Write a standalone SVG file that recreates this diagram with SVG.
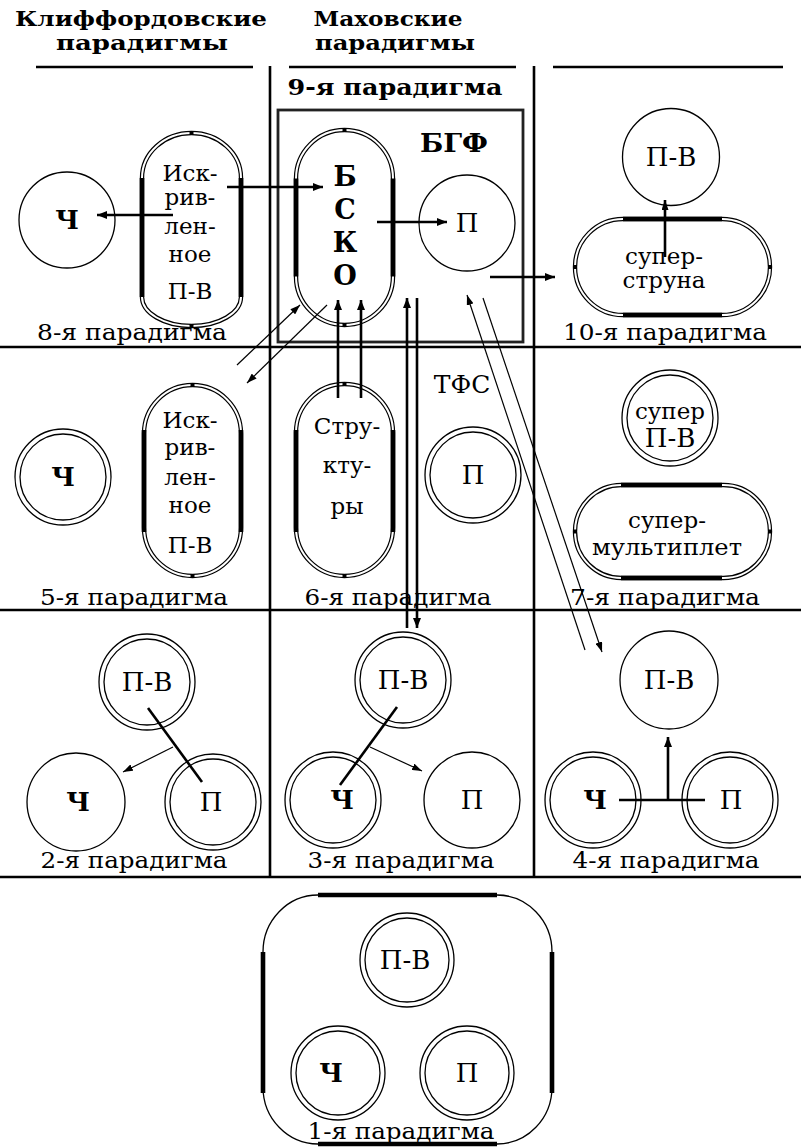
<svg xmlns="http://www.w3.org/2000/svg" width="801" height="1148" viewBox="0 0 801 1148">
<style>
.grid{stroke:#000;stroke-width:2.6;fill:none}
.c{fill:none;stroke:#000;stroke-width:1.3}
.po{fill:none;stroke:#000;stroke-width:4.4}
.pi{fill:none;stroke:#fff;stroke-width:2}
.bar{stroke:#000;stroke-width:4.6;fill:none}
.tk{fill:#000}
.th{stroke:#000;stroke-width:2.6;fill:none}
.tn{stroke:#000;stroke-width:1.2;fill:none}
text{font-family:"DejaVu Serif","Liberation Serif",serif;fill:#000}
.lbl{font-size:22px;text-anchor:middle}
.nt{font-size:26px;text-anchor:middle}
.pt{font-size:23px;text-anchor:middle}
.b{font-weight:bold}
.hd{font-size:20px;font-weight:bold;text-anchor:middle}
</style>
<defs>
<marker id="ah" viewBox="0 0 10 8" refX="10" refY="4" markerWidth="10" markerHeight="8" markerUnits="userSpaceOnUse" orient="auto"><path d="M0,0 L10,4 L0,8 Z"/></marker>
<marker id="as" viewBox="0 0 10 7" refX="10" refY="3.5" markerWidth="10" markerHeight="7" markerUnits="userSpaceOnUse" orient="auto"><path d="M0,0 L10,3.5 L0,7 Z"/></marker>
</defs>

<g id="grid">
<line class="grid" x1="36" y1="67" x2="253" y2="67"/>
<line class="grid" x1="289" y1="67" x2="516" y2="67"/>
<line class="grid" x1="553" y1="67" x2="783" y2="67"/>
<line class="grid" x1="270" y1="66" x2="270" y2="877"/>
<line class="grid" x1="534" y1="66" x2="534" y2="877"/>
<line class="grid" x1="0" y1="347" x2="801" y2="347"/>
<line class="grid" x1="0" y1="610" x2="801" y2="610"/>
<line class="grid" x1="0" y1="877" x2="801" y2="877"/>
</g>

<g id="headers">
<text class="hd" x="141" y="26" textLength="252" lengthAdjust="spacingAndGlyphs">Клиффордовские</text>
<text class="hd" x="142" y="50" textLength="172" lengthAdjust="spacingAndGlyphs">парадигмы</text>
<text class="hd" x="388" y="26" textLength="149" lengthAdjust="spacingAndGlyphs">Маховские</text>
<text class="hd" x="395" y="50" textLength="160" lengthAdjust="spacingAndGlyphs">парадигмы</text>
</g>

<g id="labels">
<text class="lbl" x="132" y="340" textLength="190" lengthAdjust="spacingAndGlyphs">8-я парадигма</text>
<text class="lbl" x="395" y="95" font-weight="bold" textLength="215" lengthAdjust="spacingAndGlyphs">9-я парадигма</text>
<text class="lbl" x="665" y="340" textLength="204" lengthAdjust="spacingAndGlyphs">10-я парадигма</text>
<text class="lbl" x="134" y="605" textLength="188" lengthAdjust="spacingAndGlyphs">5-я парадигма</text>
<text class="lbl" x="398" y="605" textLength="187" lengthAdjust="spacingAndGlyphs">6-я парадигма</text>
<text class="lbl" x="665" y="605" textLength="190" lengthAdjust="spacingAndGlyphs">7-я парадигма</text>
<text class="lbl" x="134" y="868" textLength="187" lengthAdjust="spacingAndGlyphs">2-я парадигма</text>
<text class="lbl" x="401" y="868" textLength="187" lengthAdjust="spacingAndGlyphs">3-я парадигма</text>
<text class="lbl" x="666" y="868" textLength="187" lengthAdjust="spacingAndGlyphs">4-я парадигма</text>
<text class="lbl" x="401" y="1139" textLength="187" lengthAdjust="spacingAndGlyphs">1-я парадигма</text>
</g>

<!-- 8 -->
<g id="p8-ch">
<circle class="c" cx="67" cy="220" r="48"/>
<text class="nt b" x="67" y="229">Ч</text>
</g>
<g id="p8-pv">
<path class="po" d="M142,178 A49.5,45 0 0 1 241,178 L241,297 A49.5,29 0 0 1 142,297 Z"/>
<path class="pi" d="M142,178 A49.5,45 0 0 1 241,178 L241,297 A49.5,29 0 0 1 142,297 Z"/>
<line class="bar" x1="142" y1="178" x2="142" y2="297"/>
<line class="bar" x1="241" y1="178" x2="241" y2="297"/>
<rect class="tk" x="189.5" y="131" width="4" height="4"/>
<rect class="tk" x="189.5" y="324" width="4" height="4"/>
<text class="pt" x="190" y="181">Иск-</text>
<text class="pt" x="190" y="205">рив-</text>
<text class="pt" x="190" y="234">лен-</text>
<text class="pt" x="190" y="262">ное</text>
<text class="pt" x="190" y="299">П-В</text>
</g>

<!-- 9 -->
<g id="p9-box">
<rect x="278" y="110" width="245" height="232" fill="none" stroke="#222" stroke-width="2.8"/>
<text x="454" y="152" font-size="26" font-weight="bold" text-anchor="middle" textLength="68" lengthAdjust="spacingAndGlyphs">БГФ</text>
</g>
<g id="p9-bsko">
<path class="po" d="M296,178.5 A48.5,48.5 0 0 1 393,178.5 L393,276.5 A48.5,48.5 0 0 1 296,276.5 Z"/>
<path class="pi" d="M296,178.5 A48.5,48.5 0 0 1 393,178.5 L393,276.5 A48.5,48.5 0 0 1 296,276.5 Z"/>
<line class="bar" x1="296" y1="178.5" x2="296" y2="276.5"/>
<line class="bar" x1="393" y1="178.5" x2="393" y2="276.5"/>
<rect class="tk" x="342.5" y="128" width="4" height="4"/>
<rect class="tk" x="342.5" y="323" width="4" height="4"/>
<text x="345" y="186" font-size="27" font-weight="bold" text-anchor="middle">Б</text>
<text x="345" y="219" font-size="27" font-weight="bold" text-anchor="middle">С</text>
<text x="345" y="252" font-size="27" font-weight="bold" text-anchor="middle">К</text>
<text x="345" y="285" font-size="27" font-weight="bold" text-anchor="middle">О</text>
</g>
<g id="p9-p">
<circle class="c" cx="467" cy="223" r="48"/>
<text class="nt" x="467" y="232">П</text>
</g>

<!-- 10 -->
<g id="p10-pv">
<circle class="c" cx="671" cy="157" r="48.5"/>
<text class="nt" x="671" y="166">П-В</text>
</g>
<g id="p10-ss">
<path class="po" d="M623,219 L722,219 A48,48 0 0 1 722,315 L623,315 A48,48 0 0 1 623,219 Z"/>
<path class="pi" d="M623,219 L722,219 A48,48 0 0 1 722,315 L623,315 A48,48 0 0 1 623,219 Z"/>
<line class="bar" x1="623" y1="219" x2="722" y2="219"/>
<line class="bar" x1="623" y1="315" x2="722" y2="315"/>
<rect class="tk" x="573" y="265" width="4" height="4"/>
<rect class="tk" x="768" y="265" width="4" height="4"/>
<text class="pt" x="664" y="264">супер-</text>
<text class="pt" x="664" y="288">струна</text>
</g>

<!-- 5 -->
<g id="p5-ch">
<circle class="c" cx="63" cy="477" r="48"/>
<circle class="c" cx="63" cy="477" r="43"/>
<text class="nt b" x="63" y="486">Ч</text>
</g>
<g id="p5-pv">
<path class="po" d="M144,433.5 A48.5,48.5 0 0 1 241,433.5 L241,527.5 A48.5,48.5 0 0 1 144,527.5 Z"/>
<path class="pi" d="M144,433.5 A48.5,48.5 0 0 1 241,433.5 L241,527.5 A48.5,48.5 0 0 1 144,527.5 Z"/>
<line class="bar" x1="144" y1="430" x2="144" y2="532"/>
<line class="bar" x1="241" y1="430" x2="241" y2="532"/>
<rect class="tk" x="190.5" y="383" width="4" height="4"/>
<rect class="tk" x="190.5" y="574" width="4" height="4"/>
<text class="pt" x="190" y="428">Иск-</text>
<text class="pt" x="190" y="455">рив-</text>
<text class="pt" x="190" y="485">лен-</text>
<text class="pt" x="190" y="513">ное</text>
<text class="pt" x="190" y="553">П-В</text>
</g>

<!-- 6 -->
<g id="p6-str">
<path class="po" d="M296,432.5 A48.5,48.5 0 0 1 393,432.5 L393,527.5 A48.5,48.5 0 0 1 296,527.5 Z"/>
<path class="pi" d="M296,432.5 A48.5,48.5 0 0 1 393,432.5 L393,527.5 A48.5,48.5 0 0 1 296,527.5 Z"/>
<line class="bar" x1="296" y1="430" x2="296" y2="532"/>
<line class="bar" x1="393" y1="430" x2="393" y2="532"/>
<rect class="tk" x="342.5" y="382" width="4" height="4"/>
<rect class="tk" x="342.5" y="574" width="4" height="4"/>
<text class="pt" x="347" y="434" font-size="24">Стру-</text>
<text class="pt" x="347" y="473" font-size="24">кту-</text>
<text class="pt" x="347" y="514" font-size="24">ры</text>
</g>
<g id="p6-p">
<text x="462" y="393" font-size="25" text-anchor="middle">ТФС</text>
<circle class="c" cx="473" cy="475" r="48"/>
<circle class="c" cx="473" cy="475" r="43"/>
<text class="nt" x="473" y="484">П</text>
</g>

<!-- 7 -->
<g id="p7-spv">
<circle class="c" cx="670" cy="418" r="48"/>
<circle class="c" cx="670" cy="418" r="43"/>
<text class="pt" x="670" y="419">супер</text>
<text class="nt" x="670" y="447">П-В</text>
</g>
<g id="p7-sm">
<path class="po" d="M621.5,485 L723.5,485 A46.5,46.5 0 0 1 723.5,578 L621.5,578 A46.5,46.5 0 0 1 621.5,485 Z"/>
<path class="pi" d="M621.5,485 L723.5,485 A46.5,46.5 0 0 1 723.5,578 L621.5,578 A46.5,46.5 0 0 1 621.5,485 Z"/>
<line class="bar" x1="621" y1="485" x2="722" y2="485"/>
<line class="bar" x1="621" y1="578" x2="722" y2="578"/>
<rect class="tk" x="573" y="529.5" width="4" height="4"/>
<rect class="tk" x="768" y="529.5" width="4" height="4"/>
<text class="pt" x="667" y="528" font-size="24">супер-</text>
<text class="pt" x="667" y="555" font-size="24" textLength="150" lengthAdjust="spacingAndGlyphs">мультиплет</text>
</g>

<!-- 2 -->
<g id="p2-pv">
<circle class="c" cx="147" cy="682" r="48"/>
<circle class="c" cx="147" cy="682" r="43"/>
<text class="nt" x="147" y="691">П-В</text>
</g>
<g id="p2-ch">
<circle class="c" cx="76" cy="802" r="49"/>
<text class="nt b" x="78" y="811">Ч</text>
</g>
<g id="p2-p">
<circle class="c" cx="213" cy="802" r="48"/>
<circle class="c" cx="213" cy="802" r="43"/>
<text class="nt" x="211" y="811">П</text>
</g>

<!-- 3 -->
<g id="p3-pv">
<circle class="c" cx="403" cy="680" r="48"/>
<circle class="c" cx="403" cy="680" r="43"/>
<text class="nt" x="403" y="689">П-В</text>
</g>
<g id="p3-ch">
<circle class="c" cx="333" cy="800" r="48"/>
<circle class="c" cx="333" cy="800" r="43"/>
<text class="nt b" x="342" y="809">Ч</text>
</g>
<g id="p3-p">
<circle class="c" cx="472" cy="800" r="48"/>
<text class="nt" x="472" y="809">П</text>
</g>

<!-- 4 -->
<g id="p4-pv">
<circle class="c" cx="669" cy="680" r="49"/>
<text class="nt" x="669" y="689">П-В</text>
</g>
<g id="p4-ch">
<circle class="c" cx="593" cy="800" r="48"/>
<circle class="c" cx="593" cy="800" r="43"/>
<text class="nt b" x="595" y="809">Ч</text>
</g>
<g id="p4-p">
<circle class="c" cx="730" cy="800" r="48"/>
<circle class="c" cx="730" cy="800" r="43"/>
<text class="nt" x="731" y="809">П</text>
</g>

<!-- 1 -->
<g id="p1-frame">
<rect class="c" x="263" y="895" width="289" height="249" rx="55" ry="57"/>
<line class="bar" x1="318" y1="895" x2="497" y2="895" stroke-width="3.5"/>
<line class="bar" x1="318" y1="1144" x2="497" y2="1144" stroke-width="3.5"/>
<line class="bar" x1="263" y1="952" x2="263" y2="1093" stroke-width="3.5"/>
<line class="bar" x1="552" y1="952" x2="552" y2="1093" stroke-width="3.5"/>
</g>
<g id="p1-pv">
<circle class="c" cx="407" cy="960" r="47"/>
<circle class="c" cx="407" cy="960" r="42"/>
<text class="nt" x="405" y="969">П-В</text>
</g>
<g id="p1-ch">
<circle class="c" cx="338" cy="1073" r="47"/>
<circle class="c" cx="338" cy="1073" r="42"/>
<text class="nt b" x="331" y="1082">Ч</text>
</g>
<g id="p1-p">
<circle class="c" cx="467" cy="1073" r="47"/>
<circle class="c" cx="467" cy="1073" r="42"/>
<text class="nt" x="467" y="1082">П</text>
</g>

<g id="connectors">
<line class="th" x1="173" y1="215" x2="97" y2="215" marker-end="url(#ah)"/>
<line class="th" x1="227" y1="187" x2="323" y2="187" marker-end="url(#ah)"/>
<line class="th" x1="377" y1="222" x2="447" y2="222" marker-end="url(#ah)"/>
<line class="th" x1="490" y1="277" x2="555" y2="277" marker-end="url(#ah)"/>
<line class="th" x1="665" y1="257" x2="665" y2="200" stroke-width="2.2" marker-end="url(#as)"/>
<line class="th" x1="338" y1="398" x2="338" y2="300" marker-end="url(#ah)"/>
<line class="th" x1="361" y1="398" x2="361" y2="300" marker-end="url(#ah)"/>
<line class="th" x1="407" y1="628" x2="407" y2="298" marker-end="url(#ah)"/>
<line class="th" x1="417" y1="298" x2="417" y2="628" marker-end="url(#ah)"/>
<line class="tn" x1="237" y1="365" x2="300" y2="305" marker-end="url(#as)"/>
<line class="tn" x1="327" y1="305" x2="247" y2="383" marker-end="url(#as)"/>
<line class="tn" x1="585" y1="650" x2="467" y2="295" marker-end="url(#as)"/>
<line class="tn" x1="483" y1="298" x2="602" y2="652" marker-end="url(#as)"/>
<line class="th" x1="148" y1="708" x2="202" y2="782"/>
<line class="tn" x1="173" y1="747" x2="123" y2="772" marker-end="url(#as)"/>
<line class="th" x1="397" y1="707" x2="340" y2="785"/>
<line class="tn" x1="370" y1="747" x2="422" y2="771" marker-end="url(#as)"/>
<line class="th" x1="619" y1="800" x2="705" y2="800"/>
<line class="th" x1="668" y1="800" x2="668" y2="737" marker-end="url(#ah)"/>
</g>
</svg>
